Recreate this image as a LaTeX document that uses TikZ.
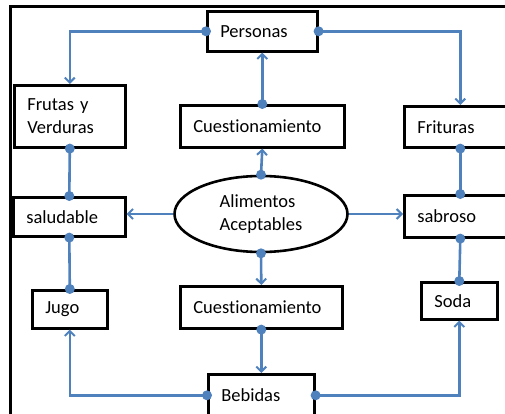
\documentclass[tikz,border=0pt]{standalone}
\usepackage{fontspec}
\setmainfont{Carlito}[Ligatures=NoCommon]
\usetikzlibrary{arrows.meta,shapes.geometric,positioning}

\begin{document}
\begin{tikzpicture}[x=1pt,y=-1pt]
\definecolor{linkColour}{RGB}{79, 129, 189}
			\tikzstyle{box}=[rectangle, draw=black, line width=2.6pt, anchor=north west, inner xsep=13pt, inner ysep=0pt, align=left, font=\fontsize{18.5}{23}\selectfont]
			\tikzstyle{oval}=[ellipse, draw=black, line width=2.6pt, minimum width=173pt, minimum height=76pt, inner sep=0pt, align=left, font=\fontsize{18.5}{23}\selectfont]
			\tikzstyle{link}=[draw=linkColour, line width=2.6pt, -{Straight Barb[length=5pt,width=10pt,line width=2pt]}]
			\tikzstyle{joint}=[draw=linkColour, line width=2.6pt]
			\tikzstyle{dot}=[fill=linkColour]

			\useasboundingbox (0,0) rectangle (505,414);
			\clip (0,0) rectangle (505,414);

			% frame
			\draw[line width=3pt] (10,420) -- (10,7) -- (510,7);

			% boxes
			\node [box, minimum width=110pt, minimum height=40pt, text width=84pt] (personas) at (206,10) {Personas};
			\node [box, minimum width=111pt, minimum height=62pt, text width=85pt] (frutas) at (13,84) {Frutas y\\Verduras};
			\node [box, minimum width=164pt, minimum height=42pt, text width=138pt] (cuestA) at (179,104) {Cuestionamiento};
			\node [box, minimum width=112pt, minimum height=41pt, text width=86pt] (frituras) at (403,105) {Frituras};
			\node [box, minimum width=112pt, minimum height=39pt, text width=86pt] (saludable) at (12,196) {saludable};
			\node [box, minimum width=112pt, minimum height=42pt, text width=86pt] (sabroso) at (403,194) {sabroso};
			\node [box, minimum width=75pt, minimum height=38pt, text width=49pt] (jugo) at (31,289) {Jugo};
			\node [box, minimum width=162pt, minimum height=42pt, text width=136pt] (cuestB) at (179,285) {Cuestionamiento};
			\node [box, minimum width=76pt, minimum height=37pt, text width=50pt] (soda) at (420,281) {Soda};
			\node [box, minimum width=106pt, minimum height=42pt, text width=80pt] (bebidas) at (207,373) {Bebidas};

			\node [oval] (alim) at (261,214) {Alimentos\\Aceptables};

			% connectors
			\draw[link] (personas.west) -| (frutas.north);
			\draw[link] (personas.east) -| (frituras.north);
			\draw[link] (cuestA.north) -- (personas.south);
			\draw[link] (alim.north) -- (cuestA.south);
			\draw[link] (alim.west) -- (alim.west -| saludable.east);
			\draw[link] (alim.east) -- (alim.east -| sabroso.west);
			\draw[link] (alim.south) -- (cuestB.north);
			\draw[link] (cuestB.south) -- (bebidas.north);
			\draw[link] (bebidas.west) -| (jugo.south);
			\draw[link] (bebidas.east) -| (soda.south);

			\path[joint]
			(frutas.south) edge (saludable.north)
			(saludable.south) edge (jugo.north)
			(frituras.south) edge (sabroso.north)
			(sabroso.south) edge (soda.north);

			% dots
			\foreach \p in {personas.west, personas.east, cuestA.north, alim.north, alim.south,
				cuestB.south, bebidas.west, bebidas.east, frutas.south, saludable.north,
				saludable.south, jugo.north, frituras.south, sabroso.north, sabroso.south, soda.north}
				\fill[dot] (\p) circle (5pt);
		\end{tikzpicture}
\end{document}
